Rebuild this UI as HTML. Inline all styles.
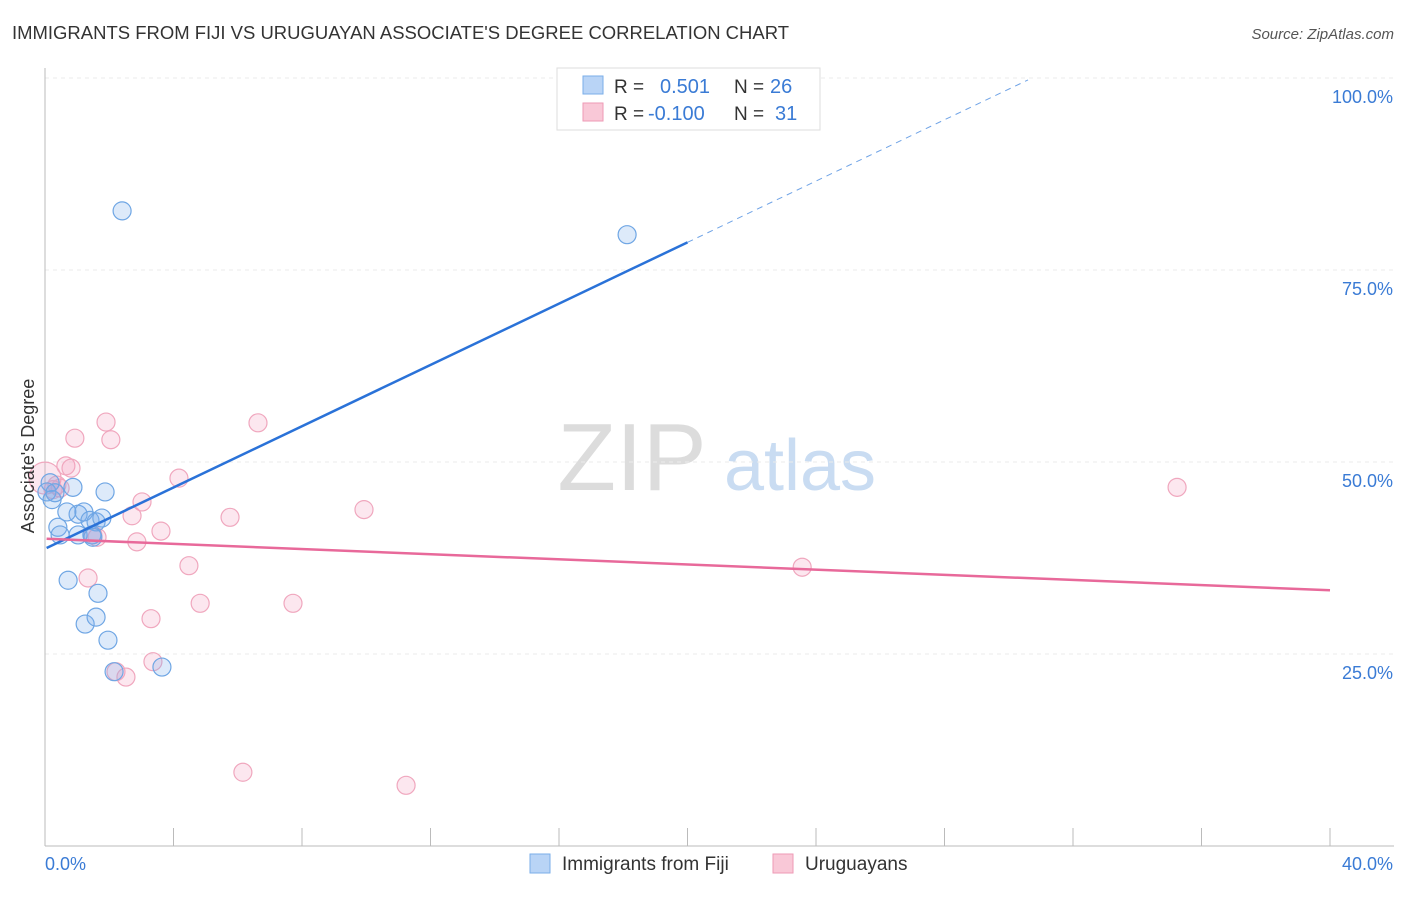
<!DOCTYPE html>
<html><head><meta charset="utf-8">
<style>
body{margin:0;background:#fff;font-family:"Liberation Sans",sans-serif;}
svg text{font-family:"Liberation Sans",sans-serif;}
</style></head>
<body>
<svg id="chart" width="1406" height="892" xmlns="http://www.w3.org/2000/svg">
<text x="12" y="39" font-size="18" fill="#333" textLength="777" lengthAdjust="spacingAndGlyphs">IMMIGRANTS FROM FIJI VS URUGUAYAN ASSOCIATE'S DEGREE CORRELATION CHART</text>
<text x="1394" y="39" font-size="15" fill="#555" font-style="italic" text-anchor="end">Source: ZipAtlas.com</text>
<g>
<text x="632" y="490" font-size="96" fill="#dcdcdc" font-family="Liberation Serif,serif" text-anchor="middle">ZIP</text>
<text x="800" y="490" font-size="72" fill="#c9dcf2" text-anchor="middle">atlas</text>
</g>
<g id="grid"></g>
<g id="axes"></g>
<g id="marks"></g>
<g>
<rect x="557" y="68" width="263" height="62" fill="#fff" stroke="#ddd"/>
<rect x="583" y="76" width="20" height="18" fill="#b9d4f6" stroke="#7aaee8"/>
<text x="614" y="93" font-size="19" fill="#333">R =</text>
<text x="660" y="93" font-size="20" fill="#3a7bd5">0.501</text>
<text x="734" y="93" font-size="19" fill="#333">N =</text>
<text x="770" y="93" font-size="20" fill="#3a7bd5">26</text>
<rect x="583" y="103" width="20" height="18" fill="#f9c8d7" stroke="#ee9ab5"/>
<text x="614" y="120" font-size="19" fill="#333">R =</text>
<text x="648" y="120" font-size="20" fill="#3a7bd5">-0.100</text>
<text x="734" y="120" font-size="19" fill="#333">N =</text>
<text x="775" y="120" font-size="20" fill="#3a7bd5">31</text>
</g>
<g>
<rect x="530" y="854" width="20" height="19" fill="#b9d4f6" stroke="#7aaee8"/>
<text x="562" y="870" font-size="19" fill="#333">Immigrants from Fiji</text>
<rect x="773" y="854" width="20" height="19" fill="#f9c8d7" stroke="#ee9ab5"/>
<text x="805" y="870" font-size="19" fill="#333">Uruguayans</text>
</g>
<text transform="translate(34,456) rotate(-90)" font-size="18" fill="#333" text-anchor="middle">Associate's Degree</text>
</svg>
<script>
const fijiX=[0.16,0.06,0.22,0.40,0.72,1.25,1.59,1.65,1.96,2.15,3.64,2.40,18.12,0.87,1.87,1.03,1.21,1.40,1.59,1.77,0.47,1.03,1.46,0.68,1.49,0.31];
const fijiY=[47.3,46.1,45.1,41.5,34.6,28.9,29.8,32.9,26.8,22.7,23.3,82.7,79.6,46.7,46.1,43.2,43.5,42.4,42.2,42.7,40.5,40.5,40.5,43.5,40.2,46.0];
const uruX=[0.0,0.93,1.90,2.05,0.65,0.81,6.63,4.17,3.02,2.71,3.61,2.86,1.62,1.49,0.47,0.25,1.34,4.48,4.83,3.30,7.72,9.93,3.36,2.21,2.52,6.16,11.24,5.76,23.57,35.24,0.37];
const uruY=[47.9,53.1,55.2,52.9,49.5,49.2,55.1,47.9,44.8,43.0,41.0,39.6,40.2,40.5,46.6,46.4,34.9,36.5,31.6,29.6,31.6,43.8,24.0,22.7,22.0,9.6,7.9,42.8,36.3,46.7,47.0];
const fijiTrend=[0,38.7,20,78.6];
const uruTrend=[0,40.0,40,33.3];
const yTicks=[25,50,75,100];
const xTickLabels=["0.0%","40.0%"];

const X=v=>45+v*(1285/40);
const Y=v=>846-v*7.68;
const NS="http://www.w3.org/2000/svg";
function mk(tag,attrs,parent){const e=document.createElementNS(NS,tag);for(const k in attrs)e.setAttribute(k,attrs[k]);parent.appendChild(e);return e;}
const grid=document.getElementById('grid'),axes=document.getElementById('axes'),marks=document.getElementById('marks');
yTicks.forEach(t=>{
  const l=mk('line',{x1:45,x2:1394,y1:Y(t),y2:Y(t),stroke:'#ebebeb','stroke-dasharray':'4,4'},grid);
  
  
  const tx=mk('text',{x:1393,y:Y(t)+25,'font-size':18,fill:'#3a7bd5','text-anchor':'end'},axes);
  tx.textContent=t.toFixed(1)+'%';
  
  
});
mk('line',{x1:45,x2:45,y1:68,y2:846,stroke:'#bbb'},axes);
mk('line',{x1:45,x2:1394,y1:846,y2:846,stroke:'#bbb'},axes);
for(let i=0;i<=10;i++){
  const t=mk('line',{x1:X(i*4),x2:X(i*4),y1:828,y2:846,stroke:'#bbb'},axes);
  
  
}
const xl0=mk('text',{x:45,y:870,'font-size':18,fill:'#3a7bd5'},axes);xl0.textContent=xTickLabels[0];


const xl1=mk('text',{x:1393,y:870,'font-size':18,fill:'#3a7bd5','text-anchor':'end'},axes);xl1.textContent=xTickLabels[1];



uruX.forEach((v,i)=>{
  const c=mk('circle',{cx:X(v),cy:Y(uruY[i]),r:(i===0?16:9),fill:'rgba(244,160,190,0.25)',stroke:'#f0a7be','stroke-width':1.2},marks);
  
  
});
fijiX.forEach((v,i)=>{
  const c=mk('circle',{cx:X(v),cy:Y(fijiY[i]),r:9,fill:'rgba(120,170,235,0.25)',stroke:'#6fa6e4','stroke-width':1.2},marks);
  
  
});
const fs=(fijiTrend[3]-fijiTrend[1])/(fijiTrend[2]-fijiTrend[0]);
const fx0=0.05,fx1=20,fx2=30.6;
const fl=mk('line',{x1:X(fx0),y1:Y(fijiTrend[1]+fs*fx0),x2:X(fx1),y2:Y(fijiTrend[1]+fs*fx1),stroke:'#2a72d8','stroke-width':2.5},marks);


const fd=mk('line',{x1:X(fx1),y1:Y(fijiTrend[1]+fs*fx1),x2:X(fx2),y2:Y(fijiTrend[1]+fs*fx2),stroke:'#6fa3e6','stroke-width':1,'stroke-dasharray':'6,5'},marks);


const ul=mk('line',{x1:X(uruTrend[0]+0.05),y1:Y(uruTrend[1]),x2:X(uruTrend[2]),y2:Y(uruTrend[3]),stroke:'#e8699a','stroke-width':2.5},marks);


</script>
</body></html>
